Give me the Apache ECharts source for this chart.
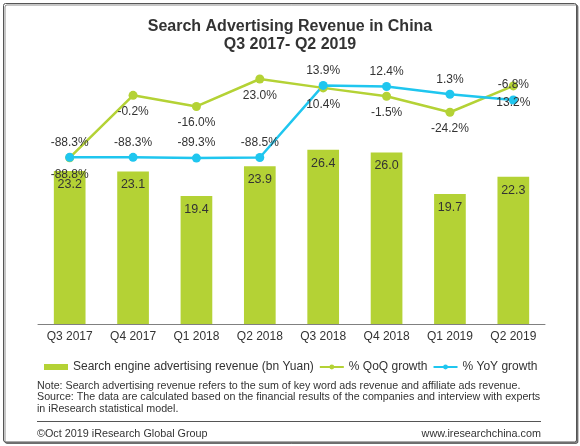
<!DOCTYPE html>
<html lang="en">
<head>
    <meta charset="UTF-8">
    <title>Search Advertising Revenue in China</title>
    <script src="https://cdn.jsdelivr.net/npm/echarts@6.0.0/dist/echarts.min.js"></script>
    <style>
        html, body { margin: 0; padding: 0; background: #fff; }
        #chart { width: 580px; height: 446px; }
    </style>
</head>
<body>
<div id="chart"></div>
<script>
// data
const quarters = ['Q3 2017', 'Q4 2017', 'Q1 2018', 'Q2 2018', 'Q3 2018', 'Q4 2018', 'Q1 2019', 'Q2 2019'];
const revenue = [23.2, 23.1, 19.4, 23.9, 26.4, 26.0, 19.7, 22.3];
const qoqGrowth = [-88.8, -0.2, -16.0, 23.0, 10.4, -1.5, -24.2, 13.2];
const yoyGrowth = [-88.3, -88.3, -89.3, -88.5, 13.9, 12.4, 1.3, -6.8];

const noteLines = [
    'Note: Search advertising revenue refers to the sum of key word ads revenue and affiliate ads revenue.',
    'Source: The data are calculated based on the financial results of the companies and interview with experts',
    'in iResearch statistical model.'
];

const FONT = '"Liberation Sans", Arial, sans-serif';
const GREEN = '#b4d235';
const BLUE = '#1fc6ef';
const TEXT = '#333';

const chart = echarts.init(document.getElementById('chart'));

// notes + footer as plain graphic text
const noteY = [385.7, 397.3, 409];
const graphics = [
    {
        type: 'rect', z: -10,
        shape: { x: 3.5, y: 3.5, width: 573, height: 438.5, r: 2 },
        style: { fill: '#fff', stroke: '#555', lineWidth: 1,
                 shadowColor: 'rgba(0,0,0,0.45)', shadowOffsetX: 1.5, shadowOffsetY: 1.5 }
    },
    {
        type: 'line',
        shape: { x1: 37, y1: 421.5, x2: 541, y2: 421.5 },
        style: { stroke: '#555', lineWidth: 1 }
    },
    {
        type: 'text', x: 37, y: 434,
        style: { text: '\u00a9Oct 2019 iResearch Global Group', fill: TEXT,
                 font: '10.8px ' + FONT, verticalAlign: 'middle' }
    },
    {
        type: 'text', x: 541, y: 434,
        style: { text: 'www.iresearchchina.com', fill: TEXT, align: 'right',
                 font: '10.8px ' + FONT, verticalAlign: 'middle' }
    }
];
noteLines.forEach((t, i) => {
    graphics.push({
        type: 'text', x: 37, y: noteY[i],
        style: { text: t, fill: TEXT, font: '10.7px ' + FONT, verticalAlign: 'middle' }
    });
});

chart.setOption({
    animation: false,
    textStyle: { fontFamily: FONT, color: TEXT },
    title: {
        text: 'Search Advertising Revenue in China\nQ3 2017- Q2 2019',
        left: 'center',
        top: 13,
        textStyle: { fontSize: 16, fontWeight: 'bold', color: TEXT, lineHeight: 17.5 }
    },
    legend: {
        left: 39,
        top: 356,
        itemWidth: 24,
        itemHeight: 6,
        itemGap: 5,
        textStyle: { fontSize: 12, color: TEXT },
        data: [
            { name: 'Search engine advertising revenue (bn Yuan)', icon: 'rect' },
            '% QoQ growth',
            '% YoY growth'
        ]
    },
    grid: { left: 38, right: 35, top: 60, bottom: 122 },
    xAxis: {
        type: 'category',
        data: quarters,
        axisLine: { lineStyle: { color: '#808080', width: 1 } },
        axisTick: { show: false },
        axisLabel: { fontSize: 12, color: TEXT, margin: 7 }
    },
    yAxis: [
        { type: 'value', min: 0, max: 40, show: false, splitLine: { show: false } },
        { type: 'value', min: -325, max: 50, show: false, splitLine: { show: false } }
    ],
    series: [
        {
            name: 'Search engine advertising revenue (bn Yuan)',
            type: 'bar',
            data: revenue,
            barWidth: '50%',
            itemStyle: { color: GREEN },
            label: {
                show: true, position: 'insideTop', distance: 7,
                fontSize: 12.5, color: TEXT,
                formatter: p => p.value.toFixed(1)
            }
        },
        {
            name: '% QoQ growth',
            type: 'line',
            yAxisIndex: 1,
            data: qoqGrowth,
            symbol: 'circle',
            symbolSize: 9,
            lineStyle: { color: GREEN, width: 2.5 },
            itemStyle: { color: GREEN },
            label: {
                show: true, position: 'bottom', distance: 6,
                fontSize: 12, color: TEXT,
                formatter: p => p.value.toFixed(1) + '%'
            }
        },
        {
            name: '% YoY growth',
            type: 'line',
            yAxisIndex: 1,
            data: yoyGrowth,
            symbol: 'circle',
            symbolSize: 9,
            lineStyle: { color: BLUE, width: 2.5 },
            itemStyle: { color: BLUE },
            label: {
                show: true, position: 'top', distance: 4.5,
                fontSize: 12, color: TEXT,
                formatter: p => p.value.toFixed(1) + '%'
            }
        }
    ],
    graphic: graphics
});
</script>
</body>
</html>
